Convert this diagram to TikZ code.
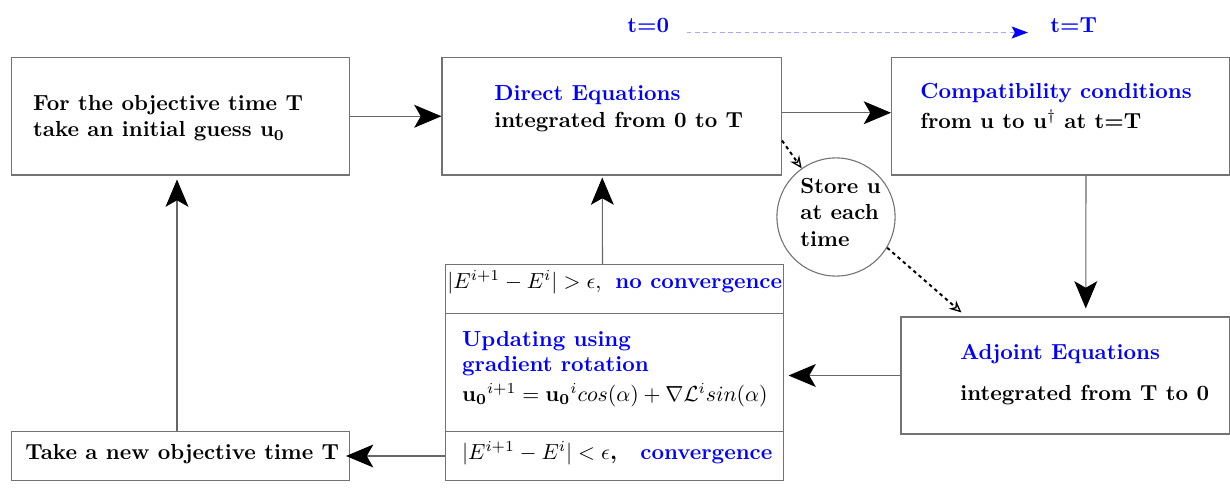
\documentclass[tikz,border=0pt]{standalone}
\usetikzlibrary{arrows.meta,fit,calc}
\begin{document}
\begin{tikzpicture}[x=0.4587pt,y=-0.4587pt,
  box/.style={draw=black!55,line width=0.5pt,inner sep=0pt,fit={#1}},
  txt/.style={anchor=base west,inner sep=0pt,font=\bfseries},
  btxt/.style={txt,text=blue},
  arr/.style={draw=black!60,line width=0.5pt,-{Stealth[length=12.5pt,width=10.5pt,inset=3pt,color=black]}},
  dotarr/.style={line width=0.9pt,dash pattern=on 1.6pt off 1.6pt,-{Stealth[open,length=5.5pt,width=5pt,line width=0.6pt]}},
  bluedash/.style={draw=blue!35,line width=0.7pt,dash pattern=on 2.2pt off 1.6pt,-{Stealth[length=7.5pt,width=5.5pt,inset=1.5pt,color=blue]}}]
\useasboundingbox (0,0) rectangle (1230,490);

% boxes
\node[box={(11.5,57.5) (349.5,175)}] (A) {};
\node[box={(442,57.5) (781.5,175)}] (B) {};
\node[box={(891.5,57.5) (1229.5,175)}] (C) {};
\node[box={(901,317) (1229.5,434)}] (D) {};
\node[box={(445.5,264.5) (783.5,480.5)}] (M) {};
\node[box={(11.5,431.5) (349.5,480.5)}] (E) {};
\node[draw=black!55,line width=0.5pt,circle,minimum size=54.2pt,inner sep=0pt] (S) at (836,217) {};

% separators in the stacked box
\draw[draw=black!55,line width=0.5pt] (M.west |- 0,313.5) coordinate (m1) -- (M.east |- 0,313.5) coordinate (m2);
\draw[draw=black!55,line width=0.5pt] (M.west |- 0,431.7) coordinate (m3) -- (M.east |- 0,431.7) coordinate (m4);

% texts
\node[txt] (a1) at (32.7,111) {For the objective time T};
\node[txt] (a2) at (32.7,137) {take an initial guess u$_{\mathbf{0}}$};

\node[btxt] (b1) at (494,101) {Direct Equations};
\node[txt] (b2) at (494,128) {integrated from 0 to T};

\node[btxt] (c1) at (920,98.3) {Compatibility conditions};
\node[txt] (c2) at (920,128.3) {from u to u$^{\dagger}$ at t=T};

\node[btxt] (d1) at (960,360) {Adjoint Equations};
\node[txt] (d2) at (960,400) {integrated from T to 0};

\node[txt] (s1) at (800,193.3) {Store u};
\node[txt] (s2) at (800,220) {at each};
\node[txt] (s3) at (800,246.7) {time};

\node[anchor=base west,inner sep=0pt] (m5) at (447,288.3) {$|E^{i+1}-E^{i}|>\epsilon,$};
\node[btxt] (m6) at (615,288.3) {no convergence};
\node[btxt] (m7) at (461.7,346.7) {Updating using};
\node[btxt] (m8) at (461.7,371.7) {gradient rotation};
\node[anchor=base west,inner sep=0pt] (m9) at (461.7,401.7) {$\mathbf{u_0}^{i+1}=\mathbf{u_0}^{i}cos(\alpha)+\nabla\mathcal{L}^{i}sin(\alpha)$};
\node[anchor=base west,inner sep=0pt] (m10) at (461.7,459) {$|E^{i+1}-E^{i}|<\epsilon$\textbf{,}};
\node[btxt] (m11) at (640,459) {convergence};

\node[txt] (e1) at (25,459) {Take a new objective time T};

\node[btxt] (t0) at (627,33) {t=0};
\node[btxt] (tT) at (1050,33) {t=T};

% connectors
\draw[arr] (A.east) -- (B.west);
\draw[arr] ($(B.east)+(0,-3.5)$) -- ($(C.west)+(0,-3.5)$);
\draw[arr] ($(C.south)+(25.5,0)$) -- ($(D.north)+(20.5,-8)$);
\draw[arr] (D.west) -- ($(D.west -| M.east)+(4.5,0)$);
\draw[arr] (M.west |- E.east) -- ($(E.east)+(-4,0)$);
\draw[arr] ($(E.north)+(-3.5,0)$) -- ($(A.south)+(-3.5,4)$);
\draw[arr] ($(M.north)+(-12,0)$) -- ($(B.south)+(-9.5,2)$);

\draw[dotarr] ($(B.south east)+(0,-35)$) -- (S);
\draw[dotarr] (S.-31) -- ($(D.north west)+(61,-4)$);

\draw[bluedash] ($(t0.base east)+(17,-0.5)$) -- ($(tT.base west)+(-22,-0.5)$);
\end{tikzpicture}
\end{document}
